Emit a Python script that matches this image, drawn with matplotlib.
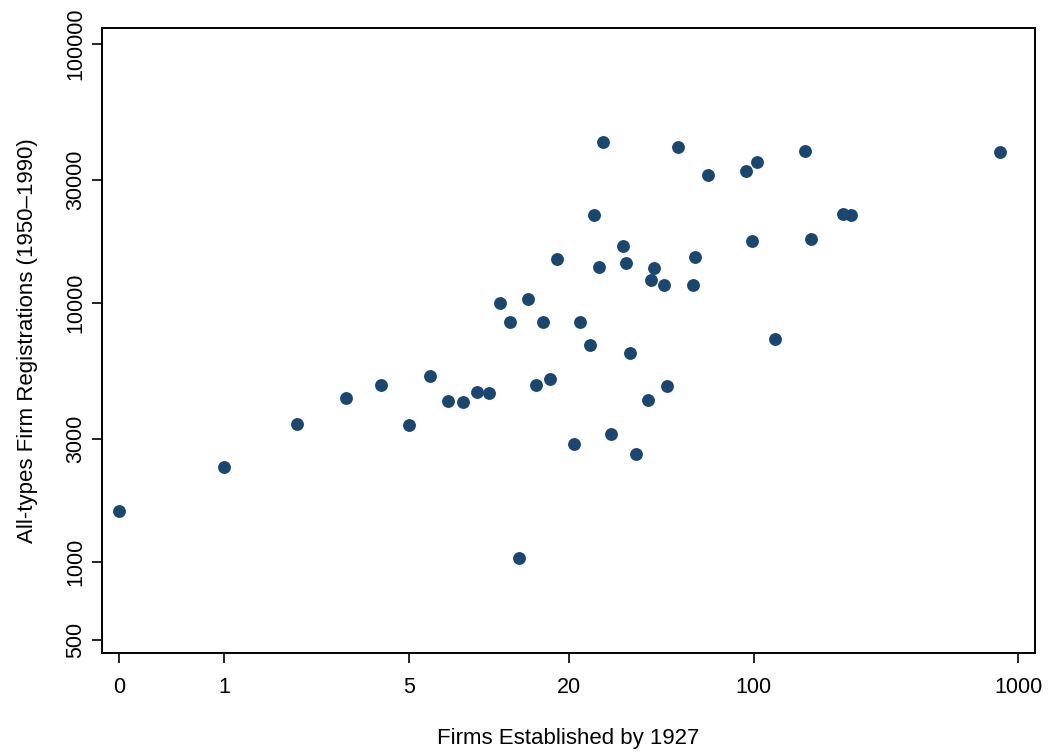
import matplotlib.pyplot as plt
import numpy as np

plt.rcParams["font.family"] = ["Liberation Sans", "DejaVu Sans"]

# firms established by 1927 (x) and all-types firm registrations 1950-1990 (y)
firms_1927 = [0, 1, 2, 3, 4, 5, 6, 7, 8, 9, 10, 11, 12, 13, 14, 15, 16, 17, 18,
              21, 22, 24, 25, 26, 27, 29, 32, 33, 34, 36, 40, 41, 42, 46, 47,
              52, 59, 60, 67, 94, 99, 103, 121, 157, 165, 218, 234, 857]
registrations = [1574, 2328, 3411, 4298, 4825, 3380, 5225, 4183, 4147, 4533,
                 4505, 10000, 8446, 1036, 10360, 4825, 8446, 5102, 14790,
                 2855, 8446, 6884, 21870, 13770, 41830, 3121, 16600, 14270,
                 6412, 2612, 4222, 12270, 13650, 11730, 4780, 40010, 11730,
                 15050, 31210, 32330, 17350, 35020, 7261, 38630, 17670, 22050,
                 21870, 38280]

x_ticks = [0, 1, 5, 20, 100, 1000]
y_ticks = [500, 1000, 3000, 10000, 30000, 100000]

# x axis: asinh-type spacing, pinned to where the ticks sit on the original
anchor_a = np.arcsinh(np.array([-10.0] + x_ticks + [100000.0]))
anchor_p = np.array([-1072.0, 119.3, 224.3, 409.3, 568.5, 753.3, 1017.7, 1669.0])


def fwd(x):
    return np.interp(np.arcsinh(x), anchor_a, anchor_p)


def inv(p):
    return np.sinh(np.interp(p, anchor_p, anchor_a))


fig = plt.figure(figsize=(10.5, 7.56), dpi=100)
ax = fig.add_axes([0.0969, 0.1362, 0.8889, 0.8268])

ax.scatter(firms_1927, registrations, s=86, color="#1a476f", linewidths=0, zorder=3)

ax.set_xscale("function", functions=(fwd, inv))
ax.set_yscale("log")
ax.set_xlim(inv(101.7), inv(1034.7))
ax.set_ylim(446, 115500)

ax.set_xticks(x_ticks)
ax.set_xticklabels([str(t) for t in x_ticks])
ax.set_yticks(y_ticks)
ax.set_yticklabels([str(t) for t in y_ticks], rotation=90, va="center")
ax.minorticks_off()

ax.tick_params(labelsize=15.5, length=7, width=1.2, color="black")
ax.tick_params(axis="x", pad=10)
ax.tick_params(axis="y", pad=4)
for s in ax.spines.values():
    s.set_linewidth(1.4)

ax.set_xlabel("Firms Established by 1927", fontsize=16, labelpad=22)
ax.set_ylabel("All-types Firm Registrations (1950\u20131990)", fontsize=16, labelpad=20)

fig.savefig("out.png", dpi=100)
